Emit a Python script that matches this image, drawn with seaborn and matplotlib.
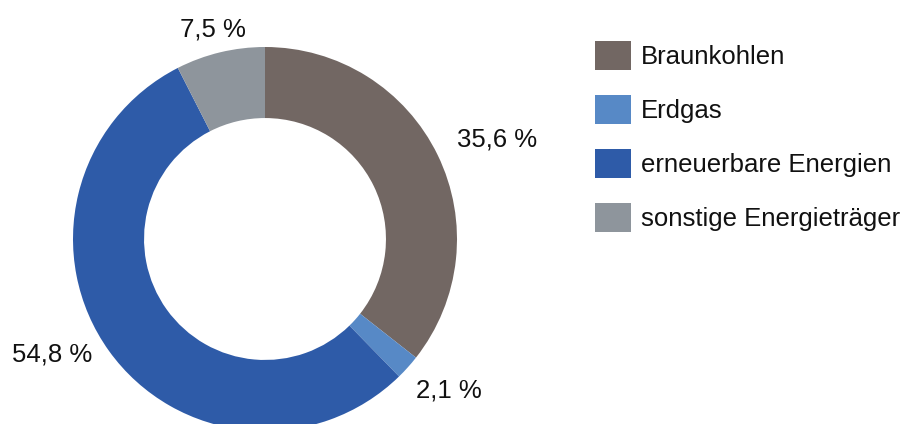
import matplotlib
matplotlib.use("Agg")
import matplotlib.pyplot as plt
import seaborn as sns
import numpy as np

categories = ["Braunkohlen", "Erdgas", "erneuerbare Energien", "sonstige Energieträger"]
values = [35.6, 2.1, 54.8, 7.5]
value_labels = ["35,6 %", "2,1 %", "54,8 %", "7,5 %"]
colors = ["#726763", "#5789c6", "#2e5ba8", "#8e959c"]

# layout
label_pos = [(1.21, 0.52), (0.96, -0.79), (-1.11, -0.60), (-0.27, 1.09)]

sns.set_theme(style="white")
plt.rcParams["font.family"] = ["Liberation Sans", "DejaVu Sans"]

W, H = 914, 424
fig = plt.figure(figsize=(W / 100, H / 100), dpi=100)
cx, cy, r = 265, 239, 192
ax = fig.add_axes([(cx - r) / W, (H - cy - r) / H, 2 * r / W, 2 * r / H])

wedges, _ = ax.pie(values, colors=colors, startangle=90, counterclock=False,
                   radius=1.0, wedgeprops=dict(width=0.37, linewidth=0))
ax.set_xlim(-1, 1)
ax.set_ylim(-1, 1)
ax.set_axis_off()

for (x, y), t in zip(label_pos, value_labels):
    ax.text(x, y, t, ha="center", va="center", fontsize=18.5, color="#111111")

leg = fig.legend(wedges, categories, loc="upper left",
                 bbox_to_anchor=(595 / W, 1 - 41 / H), frameon=False,
                 fontsize=18.5, handlelength=1.42, handleheight=1.36,
                 handletextpad=0.38, labelspacing=0.97,
                 borderpad=0, borderaxespad=0, labelcolor="#111111")

fig.savefig("out.png", dpi=100, facecolor="white")
